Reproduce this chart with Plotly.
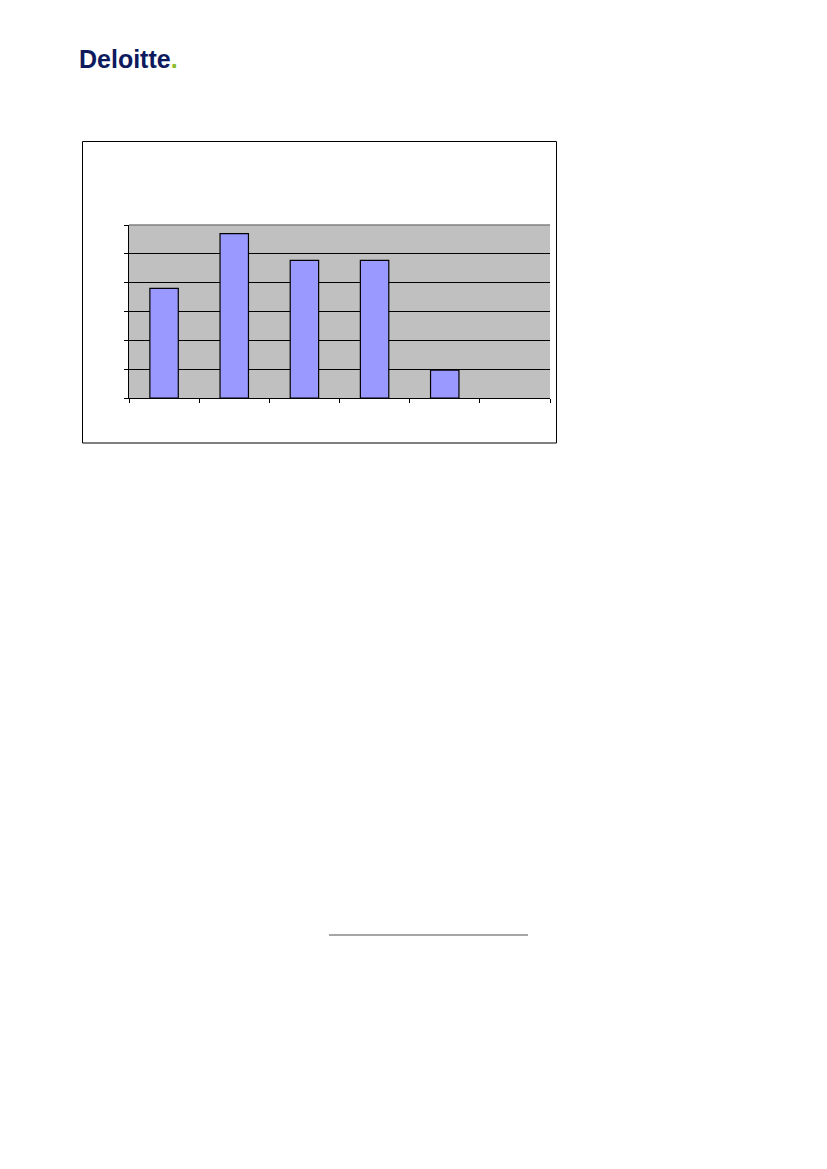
import plotly.graph_objects as go

# Chart data (no labels shown in the source, values read off the gridlines)
categories = ["1", "2", "3", "4", "5", "6"]
values = [38, 57, 47.7, 47.7, 9.7, None]
y_max = 60
y_step = 10

W, H = 827, 1169
OFF = 8  # default page margin of the html body
L, R, T, B = 129 - OFF, 550 - OFF, 225 - OFF, 398 - OFF  # plot area


def px_x(x):
    return (x - OFF - L) / (R - L)


def px_y(y):
    return (B - (y - OFF)) / (B - T)


fig = go.Figure()
fig.add_trace(go.Bar(x=categories, y=values,
                     marker=dict(color="#9999FF", line=dict(color="black", width=1.2)),
                     width=0.405))

fig.update_layout(
    width=W, height=H,
    margin=dict(l=L, r=W - R, t=T, b=H - B),
    paper_bgcolor="white",
    plot_bgcolor="#C0C0C0",
    showlegend=False,
    font=dict(family="Liberation Sans, Arial, sans-serif"),
)
fig.update_xaxes(type="category", range=[-0.5, 5.5], showticklabels=False,
                 tickson="boundaries", ticks="outside", ticklen=4, tickcolor="black",
                 showline=True, linecolor="black", linewidth=1, showgrid=False)
fig.update_yaxes(range=[0, y_max], dtick=y_step, showticklabels=False,
                 ticks="outside", ticklen=4, tickcolor="black",
                 showline=True, linecolor="black", linewidth=1,
                 showgrid=True, gridcolor="black", gridwidth=1, zeroline=False)

# gray frame on top of plot area
fig.add_shape(type="line", xref="paper", yref="paper", x0=0, x1=1, y0=1, y1=1,
              line=dict(color="#808080", width=1.5))

# outer chart border
fig.add_shape(type="rect", xref="paper", yref="paper",
              x0=px_x(82.5), x1=px_x(556.5), y0=px_y(443), y1=px_y(141.5),
              line=dict(color="black", width=1), layer="below")

# footnote separator
fig.add_shape(type="line", xref="paper", yref="paper",
              x0=px_x(329), x1=px_x(528), y0=px_y(935), y1=px_y(935),
              line=dict(color="#A6A6A6", width=2))

# logo
fig.add_annotation(xref="paper", yref="paper", x=px_x(77), y=px_y(75),
                   xanchor="left", yanchor="bottom", showarrow=False,
                   text="<b>Deloitte<span style='color:#86BC25'>.</span></b>",
                   font=dict(size=25, color="#0D1B5E",
                             family="Liberation Sans, Arial, sans-serif"))

fig.write_html("out.html")
